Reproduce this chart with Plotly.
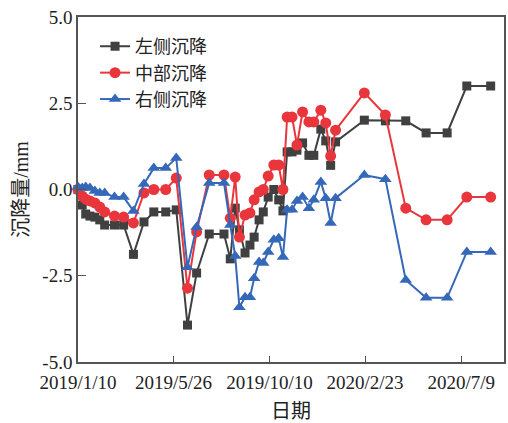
import plotly.graph_objects as go

# Survey dates (common to all three monitoring lines)
dates = [
    "2019-01-10", "2019-01-16", "2019-01-21", "2019-01-27", "2019-02-03",
    "2019-02-10", "2019-02-17", "2019-03-03", "2019-03-16", "2019-03-30",
    "2019-04-14", "2019-04-28", "2019-05-15", "2019-05-30", "2019-06-15",
    "2019-06-28", "2019-07-16", "2019-08-06", "2019-08-15", "2019-08-22",
    "2019-08-28", "2019-09-05", "2019-09-12", "2019-09-18", "2019-09-25",
    "2019-10-01", "2019-10-08", "2019-10-16", "2019-10-23", "2019-10-29",
    "2019-11-04", "2019-11-11", "2019-11-18", "2019-11-26", "2019-12-05",
    "2019-12-12", "2019-12-22", "2019-12-29", "2020-01-05", "2020-01-12",
    "2020-02-22", "2020-03-23", "2020-04-21", "2020-05-20", "2020-06-19",
    "2020-07-17", "2020-08-20",
]

# Settlement (mm)
left_settle = [
    0.00, -0.45, -0.71, -0.77, -0.80, -0.88, -1.03, -1.03, -1.03, -1.88,
    -0.94, -0.65, -0.65, -0.59, -3.93, -2.42, -1.29, -1.29, -2.01, -0.54,
    -1.17, -1.84, -1.61, -1.38, -0.88, -0.65, -0.22, 0.00, -0.30, -0.62,
    1.09, 1.09, 1.14, 1.35, 0.99, 0.99, 1.75, 1.41, 0.70, 1.38,
    2.01, 1.99, 1.99, 1.64, 1.64, 3.00, 3.00,
]
middle_settle = [
    0.00, -0.19, -0.28, -0.33, -0.39, -0.51, -0.65, -0.77, -0.80, -0.97,
    -0.10, 0.00, 0.00, 0.33, -2.86, -1.23, 0.42, 0.42, -0.83, 0.36,
    -1.38, -0.74, -0.68, -0.30, -0.07, 0.00, 0.39, 0.71, 0.71, 0.00,
    2.10, 2.10, 1.29, 2.25, 1.96, 1.96, 2.30, 1.93, 0.97, 1.72,
    2.80, 2.16, -0.54, -0.88, -0.88, -0.22, -0.22,
]
right_settle = [
    0.07, 0.04, 0.07, 0.04, -0.04, -0.10, -0.10, -0.22, -0.22, -0.62,
    0.16, 0.62, 0.62, 0.91, -2.25, -1.09, 0.19, 0.19, -1.03, -1.93,
    -3.41, -3.12, -3.12, -2.57, -2.10, -2.13, -1.81, -1.46, -1.41, -1.96,
    -0.59, -0.59, -0.33, -0.22, -0.54, -0.30, 0.22, -0.25, -0.97, -0.25,
    0.42, 0.30, -2.62, -3.14, -3.14, -1.81, -1.81,
]

series_names = ["左侧沉降", "中部沉降", "右侧沉降"]
x_tick_vals = ["2019-01-10", "2019-05-26", "2019-10-10", "2020-02-23", "2020-07-09"]
x_tick_text = ["2019/1/10", "2019/5/26", "2019/10/10", "2020/2/23", "2020/7/9"]
y_tick_vals = [5.0, 2.5, 0.0, -2.5, -5.0]
y_tick_text = ["5.0", "2.5", "0.0", "-2.5", "-5.0"]

styles = [
    dict(color="#404040", symbol="square", size=9),
    dict(color="#e8363c", symbol="circle", size=11),
    dict(color="#3568b8", symbol="triangle-up", size=11),
]

fig = go.Figure()
for name, vals, st in zip(series_names, [left_settle, middle_settle, right_settle], styles):
    fig.add_trace(go.Scatter(
        x=dates, y=vals, name=name, mode="lines+markers",
        line=dict(color=st["color"], width=2),
        marker=dict(color=st["color"], symbol=st["symbol"], size=st["size"],
                    line=dict(width=0)),
        cliponaxis=False,
    ))

serif = "Liberation Serif, Noto Sans CJK SC, serif"
axis_common = dict(
    showgrid=False, zeroline=False, showline=True, linecolor="#555555",
    linewidth=1.5, mirror=True, ticks="inside", tickcolor="#555555",
    tickwidth=1.2, tickfont=dict(family=serif, size=19, color="#222222"),
)

fig.update_layout(
    width=508, height=423,
    margin=dict(l=78, r=2, t=17, b=61),
    plot_bgcolor="white", paper_bgcolor="white",
    font=dict(family=serif, color="#222222"),
    xaxis=dict(
        **axis_common, type="date",
        range=["2019-01-10", "2020-09-08"],
        tickvals=x_tick_vals, ticktext=x_tick_text, ticklen=6,
        ticklabelstandoff=2,
        title=dict(text="日期", font=dict(family=serif, size=20), standoff=12),
    ),
    yaxis=dict(
        **axis_common,
        range=[-5.0, 5.0],
        tickvals=y_tick_vals, ticktext=y_tick_text, ticklen=8,
        title=dict(text="沉降量/mm", font=dict(family=serif, size=20), standoff=8),
    ),
    legend=dict(
        x=0.04, y=0.968, xanchor="left", yanchor="top",
        bgcolor="rgba(0,0,0,0)", font=dict(family=serif, size=18),
        tracegroupgap=0, itemwidth=30,
    ),
    showlegend=True,
)

fig.write_html("out.html")
